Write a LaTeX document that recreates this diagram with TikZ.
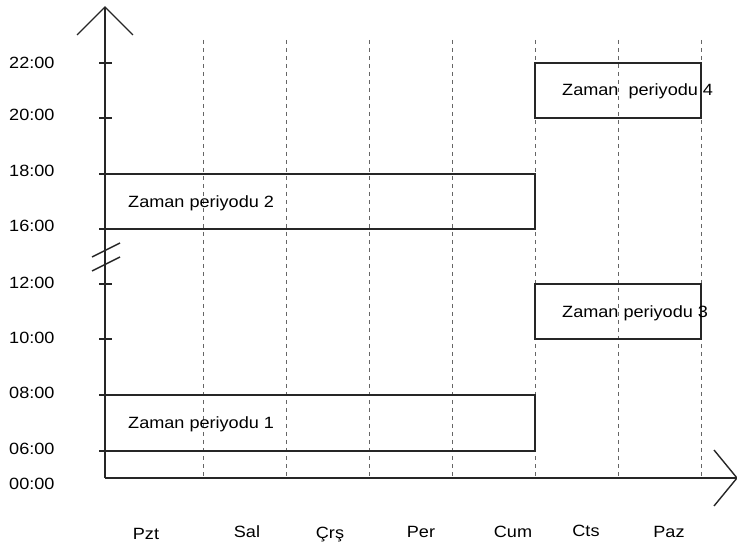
\documentclass[tikz,border=0pt]{standalone}
\usepackage{fontspec}
\setmainfont{Liberation Sans}[FakeStretch=1.11]

\begin{document}
\begin{tikzpicture}[
  x=1pt, y=-1pt,
  every node/.style={font=\fontsize{16.3}{19}\selectfont, inner sep=0pt},
  axis/.style={line width=1.4pt, draw=black!85},
  guide/.style={draw=black!60, line width=0.8pt, dash pattern=on 4pt off 4pt},
  period/.style={draw=black!85, line width=1.3pt},
  hourlbl/.style={anchor=base west},
  daylbl/.style={anchor=base},
  periodlbl/.style={anchor=base west}
]
  \useasboundingbox (0,0) rectangle (737,548);

  % origin and axis ends
  \coordinate (O) at (105,478);
  \coordinate (ytip) at (105,7);
  \coordinate (xtip) at (737,478);

  % day guides
  \foreach \x [count=\i] in {203,286,369,452,535,618,701}
    \draw[guide] (\x,40) coordinate (g\i) -- (\x,478);

  % time periods
  \draw[period] (105,395) rectangle (535,451);
  \draw[period] (105,174) rectangle (535,229);
  \draw[period] (535,284) rectangle (701,339);
  \draw[period] (535,63) rectangle (701,118);

  \node[periodlbl] (per1) at (128,428) {Zaman periyodu 1};
  \node[periodlbl] (per2) at (128,208) {Zaman periyodu 2};
  \node[periodlbl] (per3) at (562,318) {Zaman periyodu 3};
  \node[periodlbl] (per4) at (562,96) {Zaman\ \ periyodu 4};

  % axes
  \draw[axis] (O) -- (ytip);
  \draw[axis] (O) -- (xtip);
  \draw[axis] (77,35) -- (ytip) -- (133,35);
  \draw[axis] (714,450) -- (xtip) -- (714,506);

  % break mark
  \draw[axis] (92,257) -- (120,243);
  \draw[axis] (92,271) -- (120,257);

  % hours
  \foreach \lbl/\y/\b [count=\i] in {22:00/63/69, 20:00/118/121, 18:00/174/177,
      16:00/229/232, 12:00/284/289, 10:00/339/344, 08:00/395/398, 06:00/451/454} {
    \draw[axis] (99,\y) -- (112,\y);
    \node[hourlbl] (h\i) at (9,\b) {\lbl};
  }
  \node[hourlbl] (h0) at (9,489) {00:00};

  % days
  \foreach \d/\x/\b [count=\i] in {Pzt/146/539, Sal/247/537, Çrş/330/538,
      Per/421/537, Cum/513/537, Cts/586/536, Paz/669/537}
    \node[daylbl] (d\i) at (\x,\b) {\d};
\end{tikzpicture}
\end{document}
